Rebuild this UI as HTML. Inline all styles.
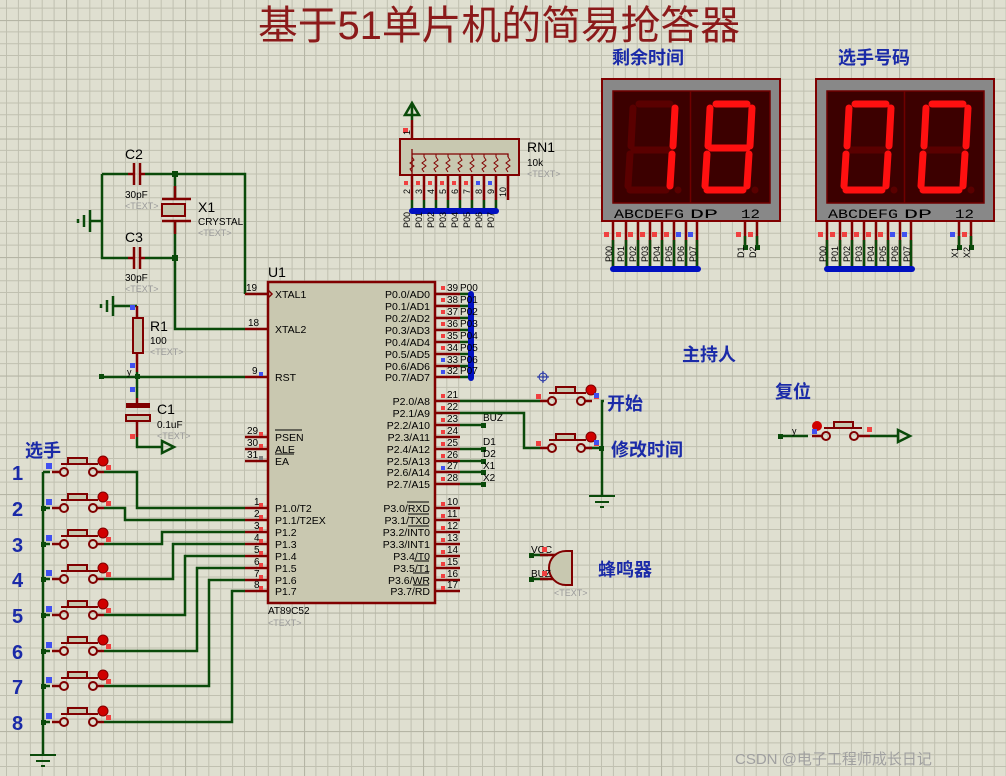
<!DOCTYPE html>
<html><head><meta charset="utf-8"><style>
html,body{margin:0;padding:0;background:#dfdfd0;}
svg{display:block;}
text{font-family:"Liberation Sans","Noto Sans CJK SC",sans-serif;}
.w{stroke:#0a4a0a;stroke-width:2.5;fill:none;}
.p{stroke:#800000;stroke-width:2.5;fill:none;}
.pn{font-size:10px;fill:#000;}
.nm{font-size:10.5px;fill:#000;}
.cn{font-size:18px;font-weight:bold;fill:#1a2aa8;font-family:"Liberation Sans","Noto Sans CJK SC",sans-serif;}
.tx{font-size:9px;fill:#9a9a9a;}
.bus{stroke:#0010c0;stroke-width:6;stroke-linecap:round;fill:none;}
.dl{font-size:13px;fill:#000;font-family:"Liberation Mono",monospace;}
</style></head><body>
<svg width="1006" height="776" viewBox="0 0 1006 776" xmlns="http://www.w3.org/2000/svg">
<defs>
<pattern id="g" x="66" y="20" width="119" height="118.5" patternUnits="userSpaceOnUse">
<path d="M0 0V118.5M11.9 0V118.5M23.8 0V118.5M35.7 0V118.5M47.6 0V118.5M59.5 0V118.5M71.4 0V118.5M83.3 0V118.5M95.2 0V118.5M107.1 0V118.5M0 0H119M0 11.85H119M0 23.7H119M0 35.55H119M0 47.4H119M0 59.25H119M0 71.1H119M0 82.95H119M0 94.8H119M0 106.65H119" stroke="#c0c0b0" stroke-width="1"/>
<path d="M0 0V118.5M0 0H119" stroke="#b5b5a5" stroke-width="2.2"/>
</pattern>
<g id="sw">
<line x1="-4" y1="0" x2="4" y2="0" class="p"/>
<circle cx="8" cy="0" r="4" fill="none" stroke="#800000" stroke-width="2"/>
<circle cx="37" cy="0" r="4" fill="none" stroke="#800000" stroke-width="2"/>
<line x1="41" y1="0" x2="48" y2="0" class="p"/>
<line x1="5" y1="-8" x2="42" y2="-8" stroke="#800000" stroke-width="2"/>
<rect x="12" y="-14" width="19" height="6" fill="#c8c8b0" stroke="#800000" stroke-width="2"/>
<circle cx="47" cy="-11" r="5" fill="#d00000" stroke="#800000" stroke-width="1"/>
<rect x="50" y="-7" width="5" height="5" fill="#f04040"/>
</g>
</defs>
<rect width="1006" height="776" fill="#dfdfd0"/>
<rect width="1006" height="776" fill="url(#g)"/>

<text x="499" y="39" text-anchor="middle" font-size="40" fill="#8b1a1a" textLength="482" lengthAdjust="spacingAndGlyphs" font-family="Liberation Sans,Noto Sans CJK SC,sans-serif">基于51单片机的简易抢答器</text>

<!-- crystal area -->
<path class="w" d="M102 174H128M145 174H245V294M102 174V258H128M145 258H175M175 174V199M175 221V329H245"/>
<line x1="128" y1="174" x2="133" y2="174" class="p"/><line x1="140" y1="174" x2="145" y2="174" class="p"/>
<line x1="134" y1="163" x2="134" y2="185" class="p"/><line x1="140" y1="163" x2="140" y2="185" class="p"/>
<line x1="128" y1="258" x2="133" y2="258" class="p"/><line x1="140" y1="258" x2="145" y2="258" class="p"/>
<line x1="134" y1="247" x2="134" y2="269" class="p"/><line x1="140" y1="247" x2="140" y2="269" class="p"/>
<line x1="162" y1="199" x2="191" y2="199" class="p"/><line x1="162" y1="221" x2="191" y2="221" class="p"/>
<rect x="162" y="204" width="23" height="12" fill="#c8c8b0" stroke="#800000" stroke-width="2"/>
<line x1="175" y1="186" x2="175" y2="199" class="p"/><line x1="175" y1="221" x2="175" y2="234" class="p"/>
<rect x="172" y="171" width="6" height="6" fill="#0a4a0a"/><rect x="172" y="255" width="6" height="6" fill="#0a4a0a"/>
<path class="w" d="M102 221H90M90 210V232M84 215V227M78 219V223"/>
<text x="125" y="159" font-size="14">C2</text><text x="125" y="198" class="pn">30pF</text><text x="125" y="209" class="tx">&lt;TEXT&gt;</text>
<text x="125" y="242" font-size="14">C3</text><text x="125" y="281" class="pn">30pF</text><text x="125" y="292" class="tx">&lt;TEXT&gt;</text>
<text x="198" y="212" font-size="14">X1</text><text x="198" y="225" class="pn">CRYSTAL</text><text x="198" y="236" class="tx">&lt;TEXT&gt;</text>

<!-- R1/C1 -->
<path class="w" d="M137 306H113M113 296V316M107 300V312M101 304V308"/>
<path class="p" d="M137 306V318M137 353V372"/>
<rect x="133" y="318" width="10" height="35" fill="#c8c8b0" stroke="#800000" stroke-width="2"/>
<rect x="130" y="305" width="5" height="5" fill="#4050f0"/><rect x="130" y="363" width="5" height="5" fill="#4050f0"/><rect x="130" y="387" width="5" height="5" fill="#4050f0"/>
<path class="w" d="M102 377H245M137 372V398"/>
<rect x="99" y="374" width="5" height="5" fill="#0a4a0a"/><rect x="135" y="374" width="5" height="5" fill="#0a4a0a"/>
<text x="127" y="375" font-size="9">y</text>
<rect x="126" y="403" width="24" height="5" fill="#800000"/>
<rect x="126" y="415" width="24" height="6" fill="#c8c8b0" stroke="#800000" stroke-width="2"/>
<path class="p" d="M137 398V403M137 421V437"/>
<rect x="130" y="434" width="5" height="5" fill="#f04040"/>
<path class="w" d="M137 437V447H162M162 441L174 447L162 453Z"/>
<text x="150" y="331" font-size="14">R1</text><text x="150" y="344" class="pn">100</text><text x="150" y="355" class="tx">&lt;TEXT&gt;</text>
<text x="157" y="414" font-size="14">C1</text><text x="157" y="428" class="pn">0.1uF</text><text x="157" y="439" class="tx">&lt;TEXT&gt;</text>

<!-- U1 chip -->
<rect x="268" y="282" width="167" height="321" fill="#c9c8b0" stroke="#800000" stroke-width="2.5"/>
<text x="268" y="277" font-size="14">U1</text>
<text x="268" y="614" class="pn">AT89C52</text><text x="268" y="626" class="tx">&lt;TEXT&gt;</text>
<g class="p">
<path d="M245 294H268M245 329H268M245 377H268M245 437H268M245 449H268M245 461H268"/>
<path d="M245 508H268M245 520H268M245 532H268M245 544H268M245 556H268M245 568H268M245 580H268M245 591H268"/>
<path d="M436 294H460M436 306H460M436 318H460M436 330H460M436 342H460M436 354H460M436 366H460M436 377H460"/>
<path d="M436 401H460M436 413H460M436 425H460M436 437H460M436 449H460M436 461H460M436 472H460M436 484H460"/>
<path d="M436 508H460M436 520H460M436 532H460M436 544H460M436 556H460M436 568H460M436 580H460M436 591H460"/>
</g>
<g class="pn">
<text x="246" y="291">19</text><text x="248" y="326">18</text><text x="252" y="374">9</text>
<text x="247" y="434">29</text><text x="247" y="446">30</text><text x="247" y="458">31</text>
<text x="254" y="505">1</text><text x="254" y="517">2</text><text x="254" y="529">3</text><text x="254" y="541">4</text><text x="254" y="553">5</text><text x="254" y="565">6</text><text x="254" y="577">7</text><text x="254" y="588">8</text>
<text x="447" y="291">39</text><text x="447" y="303">38</text><text x="447" y="315">37</text><text x="447" y="327">36</text><text x="447" y="339">35</text><text x="447" y="351">34</text><text x="447" y="363">33</text><text x="447" y="374">32</text>
<text x="447" y="398">21</text><text x="447" y="410">22</text><text x="447" y="422">23</text><text x="447" y="434">24</text><text x="447" y="446">25</text><text x="447" y="458">26</text><text x="447" y="469">27</text><text x="447" y="481">28</text>
<text x="447" y="505">10</text><text x="447" y="517">11</text><text x="447" y="529">12</text><text x="447" y="541">13</text><text x="447" y="553">14</text><text x="447" y="565">15</text><text x="447" y="577">16</text><text x="447" y="588">17</text>
</g>
<g fill="#f04040">
<rect x="259" y="432" width="4" height="4"/><rect x="259" y="444" width="4" height="4"/>
<rect x="259" y="503" width="4" height="4"/><rect x="259" y="515" width="4" height="4"/><rect x="259" y="527" width="4" height="4"/><rect x="259" y="539" width="4" height="4"/><rect x="259" y="551" width="4" height="4"/><rect x="259" y="563" width="4" height="4"/><rect x="259" y="575" width="4" height="4"/><rect x="259" y="586" width="4" height="4"/>
<rect x="441" y="286" width="4" height="4"/><rect x="441" y="298" width="4" height="4"/><rect x="441" y="310" width="4" height="4"/><rect x="441" y="322" width="4" height="4"/><rect x="441" y="334" width="4" height="4"/><rect x="441" y="346" width="4" height="4"/>
<rect x="441" y="394" width="4" height="4"/><rect x="441" y="406" width="4" height="4"/><rect x="441" y="418" width="4" height="4"/><rect x="441" y="430" width="4" height="4"/><rect x="441" y="442" width="4" height="4"/><rect x="441" y="454" width="4" height="4"/><rect x="441" y="477" width="4" height="4"/>
<rect x="441" y="502" width="4" height="4"/><rect x="441" y="514" width="4" height="4"/><rect x="441" y="526" width="4" height="4"/><rect x="441" y="538" width="4" height="4"/><rect x="441" y="550" width="4" height="4"/><rect x="441" y="562" width="4" height="4"/><rect x="441" y="574" width="4" height="4"/><rect x="441" y="586" width="4" height="4"/>
</g>
<g fill="#4050f0"><rect x="259" y="372" width="4" height="4"/><rect x="441" y="358" width="4" height="4"/><rect x="441" y="370" width="4" height="4"/><rect x="441" y="466" width="4" height="4"/></g>
<rect x="259" y="456" width="4" height="4" fill="#808080"/>
<path d="M268 290L272 294L268 298" fill="none" stroke="#800000" stroke-width="1.5"/>
<g class="nm">
<text x="275" y="298">XTAL1</text><text x="275" y="333">XTAL2</text><text x="275" y="381">RST</text>
<text x="275" y="441">PSEN</text><text x="275" y="453">ALE</text><text x="275" y="465">EA</text>
<text x="275" y="512">P1.0/T2</text><text x="275" y="524">P1.1/T2EX</text><text x="275" y="536">P1.2</text><text x="275" y="548">P1.3</text><text x="275" y="560">P1.4</text><text x="275" y="572">P1.5</text><text x="275" y="584">P1.6</text><text x="275" y="595">P1.7</text>
</g>
<path d="M275 430H302M275 454H294" stroke="#000" stroke-width="1"/>
<g class="nm" text-anchor="end">
<text x="430" y="298">P0.0/AD0</text><text x="430" y="310">P0.1/AD1</text><text x="430" y="322">P0.2/AD2</text><text x="430" y="334">P0.3/AD3</text><text x="430" y="346">P0.4/AD4</text><text x="430" y="358">P0.5/AD5</text><text x="430" y="370">P0.6/AD6</text><text x="430" y="381">P0.7/AD7</text>
<text x="430" y="405">P2.0/A8</text><text x="430" y="417">P2.1/A9</text><text x="430" y="429">P2.2/A10</text><text x="430" y="441">P2.3/A11</text><text x="430" y="453">P2.4/A12</text><text x="430" y="465">P2.5/A13</text><text x="430" y="476">P2.6/A14</text><text x="430" y="488">P2.7/A15</text>
<text x="430" y="512">P3.0/RXD</text><text x="430" y="524">P3.1/TXD</text><text x="430" y="536">P3.2/INT0</text><text x="430" y="548">P3.3/INT1</text><text x="430" y="560">P3.4/T0</text><text x="430" y="572">P3.5/T1</text><text x="430" y="584">P3.6/WR</text><text x="430" y="595">P3.7/RD</text>
</g>
<path d="M407 514H429M408 526H429M408 538H429M414 573H429M413 585H429M413 597H429" stroke="#000" stroke-width="1" transform="translate(0,-12)"/>
<!-- P0 bus -->
<path class="w" d="M460 294H470M460 306H470M460 318H470M460 330H470M460 342H470M460 354H470M460 366H470M460 377H470" stroke-width="2"/>
<line x1="471" y1="294" x2="471" y2="378" class="bus"/>
<g class="pn"><text x="460" y="291">P00</text><text x="460" y="303">P01</text><text x="460" y="315">P02</text><text x="460" y="327">P03</text><text x="460" y="339">P04</text><text x="460" y="351">P05</text><text x="460" y="363">P06</text><text x="460" y="374">P07</text></g>

<!-- P2 nets -->
<path class="w" d="M460 425H483M460 449H483M460 461H483M460 472H483M460 484H483"/>
<g fill="#0a4a0a"><rect x="481" y="423" width="5" height="5"/><rect x="481" y="447" width="5" height="5"/><rect x="481" y="459" width="5" height="5"/><rect x="481" y="470" width="5" height="5"/><rect x="481" y="482" width="5" height="5"/></g>
<g class="pn"><text x="483" y="421">BUZ</text><text x="483" y="445">D1</text><text x="483" y="457">D2</text><text x="483" y="469">X1</text><text x="483" y="481">X2</text></g>
<path class="w" d="M460 401H540M460 413H524V448H540M604 401H602V496M589 448H604"/>
<rect x="599" y="446" width="5" height="5" fill="#0a4a0a"/>
<use href="#sw" x="544" y="401"/><use href="#sw" x="544" y="448"/>
<rect x="536" y="394" width="5" height="5" fill="#f04040"/><rect x="536" y="441" width="5" height="5" fill="#f04040"/>
<rect x="594" y="393" width="5" height="5" fill="#4050f0"/><rect x="594" y="440" width="5" height="5" fill="#4050f0"/>
<path d="M589 496H615M595 502H609M600 507H604" stroke="#0a4a0a" stroke-width="2"/>
<g stroke="#1a2aa8" stroke-width="1" fill="none"><circle cx="543" cy="377" r="4"/><path d="M537 377H549M543 371V383"/></g>
<text x="607" y="410" class="cn">开始</text>
<text x="611" y="456" class="cn">修改时间</text>
<text x="682" y="361" class="cn">主持人</text>
<text x="775" y="398" class="cn">复位</text>
<text x="598" y="576" class="cn">蜂鸣器</text>

<!-- reset switch -->
<path class="w" d="M780 436H808M870 436H898M898 430L910 436L898 442Z"/>
<rect x="778" y="434" width="5" height="5" fill="#0a4a0a"/>
<text x="792" y="434" font-size="9">y</text>
<g transform="translate(812,436)">
<line x1="0" y1="0" x2="10" y2="0" class="p"/>
<circle cx="14" cy="0" r="4" fill="none" stroke="#800000" stroke-width="2"/>
<circle cx="42" cy="0" r="4" fill="none" stroke="#800000" stroke-width="2"/>
<line x1="46" y1="0" x2="58" y2="0" class="p"/>
<line x1="12" y1="-8" x2="50" y2="-8" stroke="#800000" stroke-width="2"/>
<rect x="22" y="-14" width="19" height="6" fill="#c8c8b0" stroke="#800000" stroke-width="2"/>
<circle cx="5" cy="-10" r="5" fill="#d00000"/>
<rect x="0" y="-7" width="5" height="5" fill="#4050f0"/>
<rect x="55" y="-9" width="5" height="5" fill="#f04040"/>
</g>

<!-- buzzer -->
<path class="w" d="M531 555H548M531 579H548"/>
<rect x="529" y="553" width="5" height="5" fill="#0a4a0a"/><rect x="529" y="577" width="5" height="5" fill="#0a4a0a"/>
<path class="p" d="M540 555H560M540 579H560" stroke-width="2"/>
<path d="M572 551V585H566A17 17 0 0 1 566 551Z" fill="#c8c8b0" stroke="#800000" stroke-width="2"/>
<text x="531" y="553" class="pn">VCC</text><text x="531" y="577" class="pn">BUZ</text>
<rect x="542" y="547" width="5" height="5" fill="#f04040"/><rect x="542" y="571" width="5" height="5" fill="#f04040"/>
<text x="554" y="596" class="tx">&lt;TEXT&gt;</text>

<!-- players -->
<text x="25" y="457" class="cn">选手</text>
<g font-size="20" font-weight="bold" fill="#1a2aa8">
<text x="12" y="480">1</text><text x="12" y="516">2</text><text x="12" y="552">3</text><text x="12" y="587">4</text><text x="12" y="623">5</text><text x="12" y="659">6</text><text x="12" y="694">7</text><text x="12" y="730">8</text>
</g>
<path class="w" d="M43 472V755M43 472H50"/>
<path d="M30 755H56M36 761H50M41 766H45" stroke="#0a4a0a" stroke-width="2"/>
<g fill="#0a4a0a"><rect x="41" y="506" width="5" height="5"/><rect x="41" y="542" width="5" height="5"/><rect x="41" y="577" width="5" height="5"/><rect x="41" y="613" width="5" height="5"/><rect x="41" y="649" width="5" height="5"/><rect x="41" y="684" width="5" height="5"/><rect x="41" y="720" width="5" height="5"/></g>
<path class="w" d="M43 508H50M43 544H50M43 579H50M43 615H50M43 651H50M43 686H50M43 722H50"/>
<g>
<use href="#sw" x="56" y="472"/><use href="#sw" x="56" y="508"/><use href="#sw" x="56" y="544"/><use href="#sw" x="56" y="579"/><use href="#sw" x="56" y="615"/><use href="#sw" x="56" y="651"/><use href="#sw" x="56" y="686"/><use href="#sw" x="56" y="722"/>
</g>
<g fill="#4050f0"><rect x="46" y="463" width="6" height="6"/><rect x="46" y="499" width="6" height="6"/><rect x="46" y="535" width="6" height="6"/><rect x="46" y="570" width="6" height="6"/><rect x="46" y="606" width="6" height="6"/><rect x="46" y="642" width="6" height="6"/><rect x="46" y="677" width="6" height="6"/><rect x="46" y="713" width="6" height="6"/></g>
<path class="w" d="M104 472H137V508H245M104 508H125V520H245M104 544H162V532H245M104 579H173V544H245M104 615H185V556H245M104 651H197V568H245M104 686H209V580H245M104 722H232V591H245"/>

<!-- RN1 -->
<path class="w" d="M412 103V120"/><path d="M405 115L412 103L419 115Z" fill="none" stroke="#0a4a0a" stroke-width="2.5"/>
<path class="p" d="M412 120V139" stroke-width="2"/>
<rect x="400" y="139" width="119" height="36" fill="#c8c8b0" stroke="#800000" stroke-width="2"/>
<path d="M412 149V154H508V157M412 154V175" stroke="#800000" stroke-width="1.3" fill="none"/>
<g stroke="#800000" stroke-width="1" fill="none">
<path d="M412 157l2 3l-4 3l4 3l-4 3l2 3M424 157l2 3l-4 3l4 3l-4 3l2 3M436 157l2 3l-4 3l4 3l-4 3l2 3M448 157l2 3l-4 3l4 3l-4 3l2 3M460 157l2 3l-4 3l4 3l-4 3l2 3M472 157l2 3l-4 3l4 3l-4 3l2 3M484 157l2 3l-4 3l4 3l-4 3l2 3M496 157l2 3l-4 3l4 3l-4 3l2 3M508 157l2 3l-4 3l4 3l-4 3l2 3"/>
<path d="M424 154V157M436 154V157M448 154V157M460 154V157M472 154V157M484 154V157M496 154V157"/>
</g>
<path class="p" d="M412 175V200M424 175V200M436 175V200M448 175V200M460 175V200M472 175V200M484 175V200M496 175V200M508 175V200" stroke-width="2"/>
<path class="w" d="M412 200V210M424 200V210M436 200V210M448 200V210M460 200V210M472 200V210M484 200V210M496 200V210" stroke-width="2"/>
<line x1="412" y1="211" x2="496" y2="211" class="bus"/>
<rect x="403" y="128" width="5" height="5" fill="#f04040"/>
<g fill="#f04040"><rect x="404" y="181" width="4" height="4"/><rect x="416" y="181" width="4" height="4"/><rect x="428" y="181" width="4" height="4"/><rect x="440" y="181" width="4" height="4"/><rect x="452" y="181" width="4" height="4"/><rect x="464" y="181" width="4" height="4"/></g>
<g fill="#4050f0"><rect x="476" y="181" width="4" height="4"/><rect x="488" y="181" width="4" height="4"/></g>
<g font-size="9">
<text transform="translate(410,135) rotate(-90)">1</text>
<text transform="translate(410,194) rotate(-90)">2</text><text transform="translate(422,194) rotate(-90)">3</text><text transform="translate(434,194) rotate(-90)">4</text><text transform="translate(446,194) rotate(-90)">5</text><text transform="translate(458,194) rotate(-90)">6</text><text transform="translate(470,194) rotate(-90)">7</text><text transform="translate(482,194) rotate(-90)">8</text><text transform="translate(494,194) rotate(-90)">9</text><text transform="translate(506,197) rotate(-90)">10</text>
<text transform="translate(410,228) rotate(-90)">P00</text><text transform="translate(422,228) rotate(-90)">P01</text><text transform="translate(434,228) rotate(-90)">P02</text><text transform="translate(446,228) rotate(-90)">P03</text><text transform="translate(458,228) rotate(-90)">P04</text><text transform="translate(470,228) rotate(-90)">P05</text><text transform="translate(482,228) rotate(-90)">P06</text><text transform="translate(494,228) rotate(-90)">P07</text>
</g>
<text x="527" y="152" font-size="14">RN1</text><text x="527" y="166" class="pn">10k</text><text x="527" y="177" class="tx">&lt;TEXT&gt;</text>

<!-- displays -->
<text x="612" y="64" class="cn">剩余时间</text>
<text x="838" y="64" class="cn">选手号码</text>
<g id="disp1">
<rect x="602" y="79" width="178" height="142" fill="#888" stroke="#800000" stroke-width="2"/>
<rect x="613" y="91" width="157" height="112" fill="#3c0000" stroke="#700000" stroke-width="1.5"/>
<line x1="690.5" y1="91" x2="690.5" y2="203" stroke="#700000" stroke-width="1.5"/>
<text x="614" y="218" class="dl" textLength="70" lengthAdjust="spacingAndGlyphs">ABCDEFG</text>
<text x="690" y="218" class="dl" textLength="28" lengthAdjust="spacingAndGlyphs">DP</text>
<text x="741" y="218" class="dl" textLength="19" lengthAdjust="spacingAndGlyphs">12</text>
<g class="p" stroke-width="2"><path d="M613 222V268M626 222V268M638 222V268M650 222V268M662 222V268M674 222V268M686 222V268M697 222V268M745 222V246M757 222V246"/></g>
</g>
<use href="#disp1" x="214"/>
<path class="w" d="M613 240V268M626 240V268M638 240V268M650 240V268M662 240V268M674 240V268M686 240V268M697 240V268M827 240V268M840 240V268M852 240V268M864 240V268M876 240V268M888 240V268M900 240V268M911 240V268" stroke-width="2"/>
<line x1="613" y1="269" x2="698" y2="269" class="bus"/><line x1="827" y1="269" x2="912" y2="269" class="bus"/>
<path class="w" d="M745 236V246M757 236V246M959 236V246M971 236V246" stroke-width="2"/>
<g fill="#0a4a0a"><rect x="743" y="245" width="5" height="5"/><rect x="755" y="245" width="5" height="5"/><rect x="957" y="245" width="5" height="5"/><rect x="969" y="245" width="5" height="5"/></g>
<g fill="#f04040"><rect x="604" y="232" width="5" height="5"/><rect x="616" y="232" width="5" height="5"/><rect x="628" y="232" width="5" height="5"/><rect x="640" y="232" width="5" height="5"/><rect x="652" y="232" width="5" height="5"/><rect x="664" y="232" width="5" height="5"/><rect x="736" y="232" width="5" height="5"/><rect x="748" y="232" width="5" height="5"/>
<rect x="818" y="232" width="5" height="5"/><rect x="830" y="232" width="5" height="5"/><rect x="842" y="232" width="5" height="5"/><rect x="854" y="232" width="5" height="5"/><rect x="866" y="232" width="5" height="5"/><rect x="878" y="232" width="5" height="5"/><rect x="962" y="232" width="5" height="5"/></g>
<g fill="#4050f0"><rect x="676" y="232" width="5" height="5"/><rect x="688" y="232" width="5" height="5"/><rect x="890" y="232" width="5" height="5"/><rect x="902" y="232" width="5" height="5"/><rect x="950" y="232" width="5" height="5"/></g>
<g font-size="9">
<text transform="translate(612,262) rotate(-90)">P00</text><text transform="translate(624,262) rotate(-90)">P01</text><text transform="translate(636,262) rotate(-90)">P02</text><text transform="translate(648,262) rotate(-90)">P03</text><text transform="translate(660,262) rotate(-90)">P04</text><text transform="translate(672,262) rotate(-90)">P05</text><text transform="translate(684,262) rotate(-90)">P06</text><text transform="translate(696,262) rotate(-90)">P07</text>
<text transform="translate(744,258) rotate(-90)">D1</text><text transform="translate(756,258) rotate(-90)">D2</text>
<text transform="translate(826,262) rotate(-90)">P00</text><text transform="translate(838,262) rotate(-90)">P01</text><text transform="translate(850,262) rotate(-90)">P02</text><text transform="translate(862,262) rotate(-90)">P03</text><text transform="translate(874,262) rotate(-90)">P04</text><text transform="translate(886,262) rotate(-90)">P05</text><text transform="translate(898,262) rotate(-90)">P06</text><text transform="translate(910,262) rotate(-90)">P07</text>
<text transform="translate(958,258) rotate(-90)">X1</text><text transform="translate(970,258) rotate(-90)">X2</text>
</g>
<g stroke-width="7" stroke-linecap="round" fill="none">
<g transform="translate(632,104)">
<path d="M7 0H38M2 46H38M-2 86H34M1 4L-1 42M-2 50L-4 82" stroke="#5a0000"/>
<path d="M43 4L41 42M40 50L38 82" stroke="#ff1010"/><circle cx="46" cy="86" r="3.5" fill="#5a0000" stroke="none"/>
</g>
<g transform="translate(709,104)">
<path d="M7 0H38M2 44H38M-2 86H34M1 4L-1 42M-2 50L-4 82M43 4L41 42M40 50L38 82" stroke="#ff1010"/><circle cx="46" cy="86" r="3.5" fill="#5a0000" stroke="none"/>
</g>
<g transform="translate(848,104)">
<path d="M2 46H38" stroke="#5a0000"/>
<path d="M7 0H38M-2 86H34M1 4L-1 42M-2 50L-4 82M43 4L41 42M40 50L38 82" stroke="#ff1010"/><circle cx="46" cy="86" r="3.5" fill="#5a0000" stroke="none"/>
</g>
<g transform="translate(925,104)">
<path d="M2 46H38" stroke="#5a0000"/>
<path d="M7 0H38M-2 86H34M1 4L-1 42M-2 50L-4 82M43 4L41 42M40 50L38 82" stroke="#ff1010"/><circle cx="46" cy="86" r="3.5" fill="#5a0000" stroke="none"/>
</g>
</g>

<text x="735" y="764" font-size="15" fill="#a0a0a0" font-family="Liberation Sans,Noto Sans CJK SC,sans-serif">CSDN @电子工程师成长日记</text>
</svg>
</body></html>
